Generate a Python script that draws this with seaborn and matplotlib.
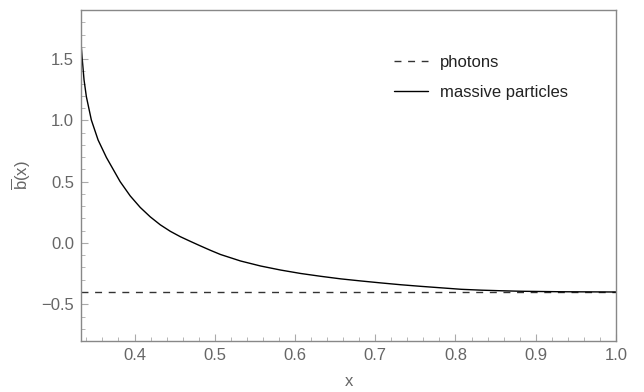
import numpy as np
import pandas as pd
import matplotlib
matplotlib.use("Agg")
import matplotlib.pyplot as plt
import seaborn as sns
from matplotlib.ticker import MultipleLocator

# values
x_massive = [0.3333, 0.3337, 0.3346, 0.3371, 0.3400, 0.3462, 0.3546, 0.3650,
             0.3821, 0.3946, 0.4071, 0.4196, 0.4321, 0.4446, 0.4571, 0.4696,
             0.4821, 0.4946, 0.5071, 0.5321, 0.5571, 0.5821, 0.6071, 0.6321,
             0.6571, 0.6821, 0.7071, 0.7321, 0.7571, 0.7821, 0.8071, 0.8321,
             0.8571, 0.8821, 0.9321, 1.0000]
y_massive = [1.63, 1.601, 1.520, 1.330, 1.193, 1.003, 0.840, 0.697,
             0.500, 0.384, 0.290, 0.213, 0.148, 0.095, 0.051, 0.013,
             -0.024, -0.060, -0.094, -0.147, -0.188, -0.221, -0.249, -0.272,
             -0.293, -0.310, -0.326, -0.341, -0.354, -0.366, -0.378, -0.385,
             -0.390, -0.394, -0.398, -0.400]
x_photons = [1 / 3, 1.0]
y_photons = [-0.4, -0.4]

df = pd.concat([
    pd.DataFrame({"x": x_photons, "b": y_photons, "kind": "photons"}),
    pd.DataFrame({"x": x_massive, "b": y_massive, "kind": "massive particles"}),
])

sns.set_style("white")
plt.rcParams["font.family"] = ["Liberation Sans", "DejaVu Sans"]
plt.rcParams["mathtext.fontset"] = "custom"
plt.rcParams["mathtext.rm"] = "Liberation Sans"
plt.rcParams["mathtext.it"] = "Liberation Sans"

fig = plt.figure(figsize=(6.44, 3.92), dpi=100)
ax = fig.add_axes([0.1258, 0.130, 0.8307, 0.8445])

sns.lineplot(data=df, x="x", y="b", hue="kind", style="kind",
             palette={"photons": "#333333", "massive particles": "black"},
             dashes={"photons": (5, 4.8), "massive particles": ""},
             linewidth=1.0, ax=ax, sort=False)

ax.set_xlim(1 / 3, 1.0)
ax.set_ylim(-0.8, 1.9)
ax.xaxis.set_major_locator(MultipleLocator(0.1))
ax.xaxis.set_minor_locator(MultipleLocator(0.02))
ax.yaxis.set_major_locator(MultipleLocator(0.5))
ax.yaxis.set_minor_locator(MultipleLocator(0.1))

gray = "#888888"
for s in ax.spines.values():
    s.set_color(gray)
    s.set_linewidth(1.0)
ax.tick_params(which="both", direction="in", color="#aaaaaa",
               labelcolor="#666666", labelsize=12, top=False, right=False,
               left=True, bottom=True)
ax.tick_params(which="major", length=5, width=0.8, pad=5)
ax.tick_params(which="minor", length=3, width=0.6)

ax.set_xlabel("x", color="#666666", fontsize=12, labelpad=8)
ax.set_ylabel(r"$\mathrm{\overline{b}(x)}$", color="#666666", fontsize=12,
              labelpad=6)

leg = ax.legend(loc="upper left", bbox_to_anchor=(0.570, 0.890), frameon=False,
                fontsize=12, handlelength=2.05, labelspacing=0.93,
                handletextpad=0.7, borderpad=0)
for t in leg.get_texts():
    t.set_color("#222222")

fig.savefig("out.png", dpi=100)
